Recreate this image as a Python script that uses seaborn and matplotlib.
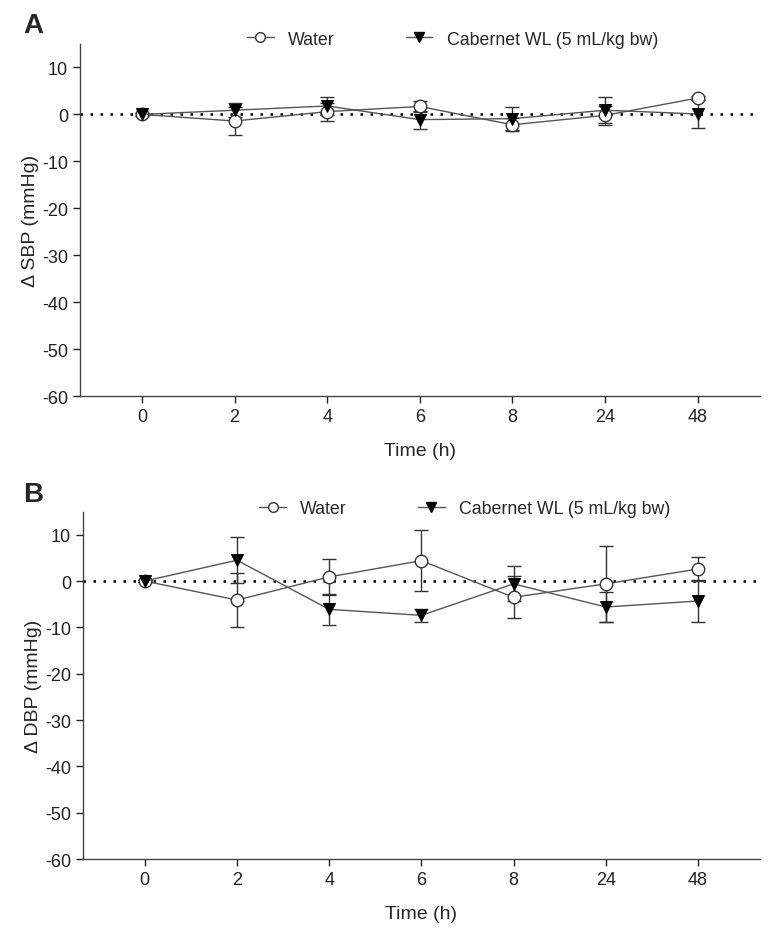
import numpy as np
import pandas as pd
import matplotlib
matplotlib.use('Agg')
import matplotlib.pyplot as plt
import seaborn as sns
from matplotlib.lines import Line2D

sns.set_style('ticks')
plt.rcParams['font.family'] = ['Liberation Sans', 'DejaVu Sans']
plt.rcParams['axes.unicode_minus'] = False

times = ['0', '2', '4', '6', '8', '24', '48']
groups = ['Water', 'Cabernet WL (5 mL/kg bw)']

# panel A: delta SBP (mean, error)
sbp_water = [0.0, -1.4, 0.6, 1.7, -2.2, -0.2, 3.5]
sbp_water_err = [0.3, 2.9, 1.9, 1.1, 1.4, 2.1, 0.4]
sbp_cab = [0.0, 0.9, 1.8, -1.1, -0.9, 0.9, 0.1]
sbp_cab_err = [0.3, 1.5, 1.9, 1.9, 2.4, 2.8, 3.0]

# panel B: delta DBP (mean, error)
dbp_water = [0.0, -4.1, 0.9, 4.4, -3.5, -0.6, 2.6]
dbp_water_err = [0.3, 5.8, 3.8, 6.6, 4.5, 8.2, 2.5]
dbp_cab = [0.0, 4.5, -6.1, -7.4, -0.6, -5.6, -4.3]
dbp_cab_err = [0.3, 4.9, 3.3, 1.4, 3.8, 3.2, 4.5]

fig = plt.figure(figsize=(7.76, 9.37), dpi=100)
axA = fig.add_axes([0.103, 0.576, 0.876, 0.376])
axB = fig.add_axes([0.107, 0.082, 0.872, 0.371])

line_col = '#555555'


def draw(ax, w, we, c, ce, ylabel, leg_anchor):
    x = np.arange(len(times))
    df = pd.DataFrame({'x': np.concatenate([x, x]),
                       'y': w + c,
                       'group': [groups[0]] * len(x) + [groups[1]] * len(x)})
    ax.axhline(0, color='black', linestyle=(0, (1, 3)), linewidth=1.8, zorder=1)
    ax.errorbar(x, w, yerr=we, fmt='none', ecolor='#333333', elinewidth=1,
                capsize=5, capthick=1, zorder=2)
    ax.errorbar(x, c, yerr=ce, fmt='none', ecolor='#333333', elinewidth=1,
                capsize=5, capthick=1, zorder=2)
    sns.lineplot(data=df, x='x', y='y', hue='group', style='group',
                 palette={groups[0]: line_col, groups[1]: line_col},
                 markers={groups[0]: 'o', groups[1]: 'v'}, dashes=False,
                 linewidth=1, ax=ax, legend=False, zorder=3)
    # marker styling
    for l in ax.get_lines():
        if l.get_marker() == 'o':
            l.set_markerfacecolor('white')
            l.set_markeredgecolor('#333333')
            l.set_markersize(9)
            l.set_markeredgewidth(1)
        elif l.get_marker() == 'v':
            l.set_markerfacecolor('black')
            l.set_markeredgecolor('black')
            l.set_markersize(9)
    ax.set_xlim(-0.67, 6.67)
    ax.set_ylim(-60, 15)
    ax.set_yticks(np.arange(-60, 11, 10))
    ax.set_xticks(x)
    ax.set_xticklabels(times)
    ax.set_xlabel('Time (h)', fontsize=14, labelpad=12)
    ax.set_ylabel(ylabel, fontsize=14, labelpad=2)
    ax.tick_params(labelsize=13, length=5, width=1, colors='#222222')
    sns.despine(ax=ax)
    for s in ('left', 'bottom'):
        ax.spines[s].set_color('#444444')
        ax.spines[s].set_linewidth(1)
    handles = [Line2D([], [], color=line_col, lw=1, marker='o', markersize=7,
                      markerfacecolor='white', markeredgecolor='#333333'),
               Line2D([], [], color=line_col, lw=1, marker='v', markersize=7,
                      markerfacecolor='black', markeredgecolor='black')]
    ax.legend(handles, groups, ncol=2, frameon=False, fontsize=12.8,
              loc='center', bbox_to_anchor=leg_anchor,
              handlelength=1.5, handletextpad=0.8, columnspacing=4.0,
              borderaxespad=0, borderpad=0)


draw(axA, sbp_water, sbp_water_err, sbp_cab, sbp_cab_err,
     '\u0394 SBP (mmHg)', (0.548, 1.014))
draw(axB, dbp_water, dbp_water_err, dbp_cab, dbp_cab_err,
     '\u0394 DBP (mmHg)', (0.564, 1.009))

fig.text(0.03, 0.972, 'A', fontsize=20, fontweight='bold', va='center')
fig.text(0.03, 0.472, 'B', fontsize=20, fontweight='bold', va='center')

fig.savefig('out.png', dpi=100)
